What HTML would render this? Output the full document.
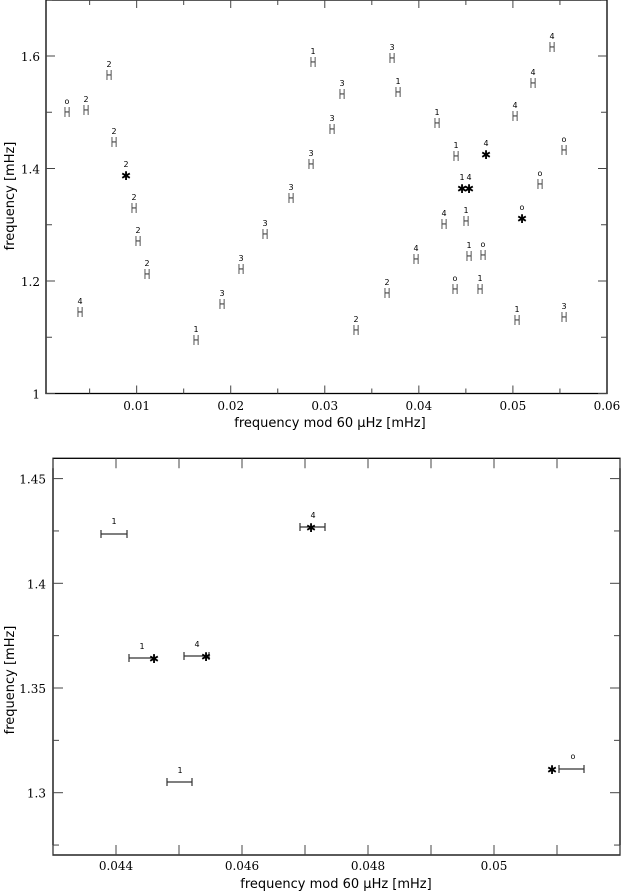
<!DOCTYPE html>
<html><head><meta charset="utf-8"><style>
html,body{margin:0;padding:0;background:#fff}
svg{display:block}
.tl{font-family:"DejaVu Serif","Liberation Serif",serif;font-size:12px;fill:#000}
.al{font-family:"DejaVu Sans","Liberation Sans",sans-serif;font-size:13px;fill:#000}
.H{font-family:"DejaVu Sans","Liberation Sans",sans-serif;font-size:13px;fill:#444}
.lb{font-family:"DejaVu Sans","Liberation Sans",sans-serif;font-size:8px;fill:#000}
</style></head><body>
<svg id="s" width="621" height="893" xmlns="http://www.w3.org/2000/svg">
<rect x="46" y="0" width="561" height="393.5" fill="none" stroke="#000" stroke-width="1.3"/>
<rect x="53" y="458.3" width="567" height="396.7" fill="none" stroke="#000" stroke-width="1.3"/>
<text class="al" x="330" y="427" text-anchor="middle">frequency mod 60 µHz [mHz]</text>
<text class="al" x="336" y="888" text-anchor="middle">frequency mod 60 µHz [mHz]</text>
<text class="al" transform="translate(14,196) rotate(-90)" text-anchor="middle">frequency [mHz]</text>
<text class="al" transform="translate(14,680) rotate(-90)" text-anchor="middle">frequency [mHz]</text>
<g id="g"></g>
</svg>
<script>
var g=document.getElementById('g'),h='';
function L(x1,y1,x2,y2,c,w){h+='<line x1="'+x1+'" y1="'+y1+'" x2="'+x2+'" y2="'+y2+'" stroke="'+(c||'#000')+'" stroke-width="'+(w||1)+'"/>';}
function T(x,y,t,cls,a){h+='<text class="'+cls+'" x="'+x+'" y="'+y+'" text-anchor="'+(a||'middle')+'">'+t+'</text>';}
var X=function(v){return 42.6+v*9406},Y=function(v){return 393.5-(v-1)*562.5};
for(var i=1;i<12;i++){var v=i*0.005,x=X(v),m=i%2==0?8:5;L(x,393.5,x,393.5-m,'#444');L(x,0,x,m,'#444');if(i%2==0)T(x,410,(v).toFixed(2).replace(/0$/,''),'tl');}
T(X(0.06),410,'0.06','tl');
for(var i=0;i<8;i++){var v=1+i*0.1,y=Y(v),m=i%2==0?9:6;L(46,y,46+m,y,'#444');L(607,y,607-m,y,'#444');if(i%2==0&&i<7)T(40,y+5,i==0?'1':v.toFixed(1),'tl','end');}
var P=[['o',67,112],['2',86,110],['2',109,75],['2',114,142],['2',126,175,1],['2',134,208],['2',138,241],['2',147,274],['4',80,312],['1',196,340],['3',222,304],['3',241,269],['3',265,234],['3',291,198],['3',311,164],['1',313,62],
['3',392,58],['3',342,94],['1',398,92],['3',332,129],['1',437,123],['4',515,116],['4',533,83],['4',552,47],['1',456,156],['4',486,154,1],['o',564,150],['1',462,188,1],['4',469,188,1],['o',540,184],['4',444,224],['1',466,221],['o',522,218,1],['4',416,259],['1',469,256],['o',483,255],['2',387,293],['o',455,289],['1',480,289],['2',356,330],['1',517,320],['3',564,317]];
P.forEach(function(p){var x=p[1],y=p[2];
 if(p[3]){T(x,y+5,'✱','H" style="font-size:12px;fill:#000;font-weight:bold');}
 else h+='<text class="H" x="'+x+'" y="'+(y+5)+'" text-anchor="middle" transform="translate('+x+',0) scale(0.7,1) translate('+(-x)+',0)">H</text>';
 T(x,y-8,p[0],'lb');});
var X2=function(v){return 53+(v-0.043)*63000},Y2=function(v){return 583.3-(v-1.4)*2094};
for(var i=0;i<19;i+=2){var v=0.043+i*0.0005,x=X2(v),maj=(i%4==2&&i<18);L(x,855,x,845,'#444');L(x,458.3,x,468.3,'#444');if(maj)T(x,870,(v).toFixed(3).replace(/0+$/,''),'tl');}
for(var i=0;i<8;i++){var v=1.275+i*0.025,y=Y2(v);L(53,y,53+(i%2?10:6),y,'#444');L(620,y,620-(i%2?10:6),y,'#444');if(i%2)T(46,y+5,(v).toFixed(3).replace(/0+$/,''),'tl','end');}
function EB(x1,x2,y){L(x1,y,x2,y,'#555',1.5);L(x1,y-4,x1,y+4,'#333',1.2);L(x2,y-4,x2,y+4,'#333',1.2);}
EB(101,127,534);T(114,524,'1','lb');
EB(300,325,527);T(311,532,'✱','H" style="font-size:12px;fill:#000;font-weight:bold');T(313,518,'4','lb');
EB(129,154,658);T(154,663,'✱','H" style="font-size:12px;fill:#000;font-weight:bold');T(142,649,'1','lb');
EB(184,209,656);T(206,661,'✱','H" style="font-size:12px;fill:#000;font-weight:bold');T(197,647,'4','lb');
EB(167,192,782);T(180,773,'1','lb');
EB(559,584,769);T(552,774,'✱','H" style="font-size:12px;fill:#000;font-weight:bold');T(573,759,'o','lb');
g.innerHTML=h;
</script>
</body></html>
